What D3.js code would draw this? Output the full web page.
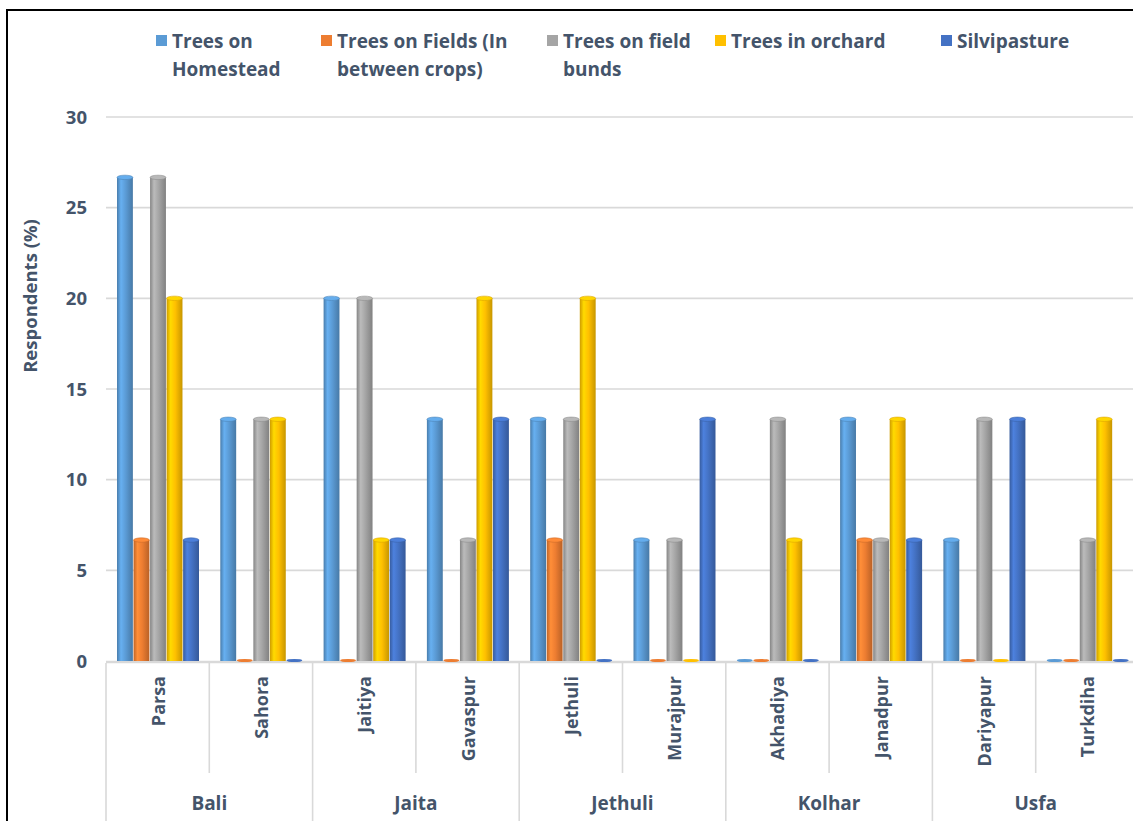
<!DOCTYPE html>
<html><head><meta charset="utf-8">
<script src="https://cdn.jsdelivr.net/npm/d3@7"></script>
<style>
html,body{margin:0;padding:0;background:#fff;overflow:hidden;}
svg{display:block;font-family:"Open Sans",sans-serif;}
</style></head>
<body>
<script>
const villages = ["Parsa","Sahora","Jaitiya","Gavaspur","Jethuli","Murajpur","Akhadiya","Janadpur","Dariyapur","Turkdiha"];
const blocks = ["Bali","Jaita","Jethuli","Kolhar","Usfa"];
const seriesNames = [["Trees on","Homestead"],["Trees on Fields (In","between crops)"],["Trees on field","bunds"],["Trees in orchard"],["Silvipasture"]];
const treesHomestead = [26.67,13.33,20,13.33,13.33,6.67,0,13.33,6.67,0];
const treesFields    = [6.67,0,0,0,6.67,0,0,6.67,0,0];
const treesBunds     = [26.67,13.33,20,6.67,13.33,6.67,13.33,6.67,13.33,6.67];
const treesOrchard   = [20,13.33,6.67,20,20,0,6.67,13.33,0,13.33];
const silvipasture   = [6.67,0,6.67,13.33,0,13.33,0,6.67,13.33,0];
const yTicks = [0,5,10,15,20,25,30];
const colors = ["#5B9BD5","#ED7D31","#A5A5A5","#FFC000","#4472C4"];

const series = [treesHomestead,treesFields,treesBunds,treesOrchard,silvipasture];
const W = 1133, H = 821;
const svg = d3.select("body").append("svg").attr("width",W).attr("height",H);
const txt = "#44546A";

const defs = svg.append("defs");
colors.forEach((c,i)=>{
  const g = defs.append("linearGradient").attr("id","g"+i).attr("x1","0%").attr("x2","100%");
  const base = d3.color(c);
  g.append("stop").attr("offset","0%").attr("stop-color",base.darker(0.6));
  g.append("stop").attr("offset","25%").attr("stop-color",base.brighter(0.35));
  g.append("stop").attr("offset","55%").attr("stop-color",base);
  g.append("stop").attr("offset","100%").attr("stop-color",base.darker(0.7));
});

const x0 = d3.scaleBand().domain(villages).range([106,1139]).padding(0);
const x1 = d3.scaleBand().domain(d3.range(5)).range([11,93]).paddingInner(0.04);
const y = d3.scaleLinear().domain([0,30]).range([661,117]);

// gridlines
svg.append("g").selectAll("line").data(yTicks.filter(d=>d>0)).join("line")
  .attr("x1",106).attr("x2",1139).attr("y1",d=>y(d)).attr("y2",d=>y(d))
  .attr("stroke","#D9D9D9").attr("stroke-width",1.6);
svg.append("line").attr("x1",106).attr("x2",1139).attr("y1",y(0)+1).attr("y2",y(0)+1)
  .attr("stroke","#D9D9D9").attr("stroke-width",2.5);

// y tick labels
svg.append("g").selectAll("text").data(yTicks).join("text")
  .attr("x",87).attr("y",d=>y(d)).attr("dy","0.36em").attr("text-anchor","end")
  .attr("font-size",18.5).attr("font-weight",700).attr("fill",txt).text(d=>d);

// y title
svg.append("text").attr("transform","translate(37,296) rotate(-90)")
  .attr("text-anchor","middle").attr("font-size",18.5).attr("font-weight",700)
  .attr("fill",txt).text("Respondents (%)");

// bars
const gCat = svg.append("g").selectAll("g").data(villages).join("g")
  .attr("transform",d=>`translate(${x0(d)},0)`);
gCat.each(function(v,vi){
  const g = d3.select(this);
  series.forEach((s,si)=>{
    const val = s[vi];
    const bx = x1(si), bw = x1.bandwidth();
    if(val>0){
      g.append("rect").attr("x",bx).attr("y",y(val)).attr("width",bw)
        .attr("height",y(0)-y(val)).attr("fill",`url(#g${si})`);
      g.append("ellipse").attr("cx",bx+bw/2).attr("cy",y(val)).attr("rx",bw/2).attr("ry",2.2)
        .attr("fill",d3.color(colors[si]).brighter(0.3)).attr("stroke",d3.color(colors[si]).darker(0.4)).attr("stroke-width",0.6);
    } else {
      g.append("ellipse").attr("cx",bx+bw/2).attr("cy",y(0)-0.5).attr("rx",bw/2).attr("ry",1.6)
        .attr("fill",colors[si]);
    }
  });
});

// category separators
const bounds = d3.range(villages.length+1).map(i=>106+i*x0.bandwidth());
svg.append("g").selectAll("line").data(bounds).join("line")
  .attr("x1",d=>d).attr("x2",d=>d).attr("y1",y(0)+2)
  .attr("y2",(d,i)=> i%2===0 ? 821 : 773)
  .attr("stroke","#D9D9D9").attr("stroke-width",1.6);

// village labels
svg.append("g").selectAll("text").data(villages).join("text")
  .attr("transform",d=>`translate(${x0(d)+x0.bandwidth()/2+7},676) rotate(-90)`)
  .attr("text-anchor","end").attr("font-size",18).attr("font-weight",700)
  .attr("fill",txt).text(d=>d);

// block labels
svg.append("g").selectAll("text").data(blocks).join("text")
  .attr("x",(d,i)=>106+(2*i+1)*x0.bandwidth()).attr("y",803).attr("dy","0.36em")
  .attr("text-anchor","middle").attr("font-size",19).attr("font-weight",700)
  .attr("fill",txt).text(d=>d);

// legend
const legX = [172,337,563,731,957];
const leg = svg.append("g").selectAll("g").data(seriesNames).join("g")
  .attr("transform",(d,i)=>`translate(${legX[i]},41)`);
leg.append("rect").attr("x",-16).attr("y",-6).attr("width",11).attr("height",11)
  .attr("fill",(d,i)=>colors[i]);
leg.each(function(lines){
  const t = d3.select(this).append("text").attr("x",0).attr("font-size",19)
    .attr("font-weight",700).attr("fill",txt);
  lines.forEach((l,li)=>{
    t.append("tspan").attr("x",0).attr("y",li*28).attr("dy","0.36em").text(l);
  });
});

// border
svg.append("rect").attr("x",7).attr("y",10).attr("width",1200).attr("height",900)
  .attr("fill","none").attr("stroke","#000").attr("stroke-width",2);
</script>
</body></html>
